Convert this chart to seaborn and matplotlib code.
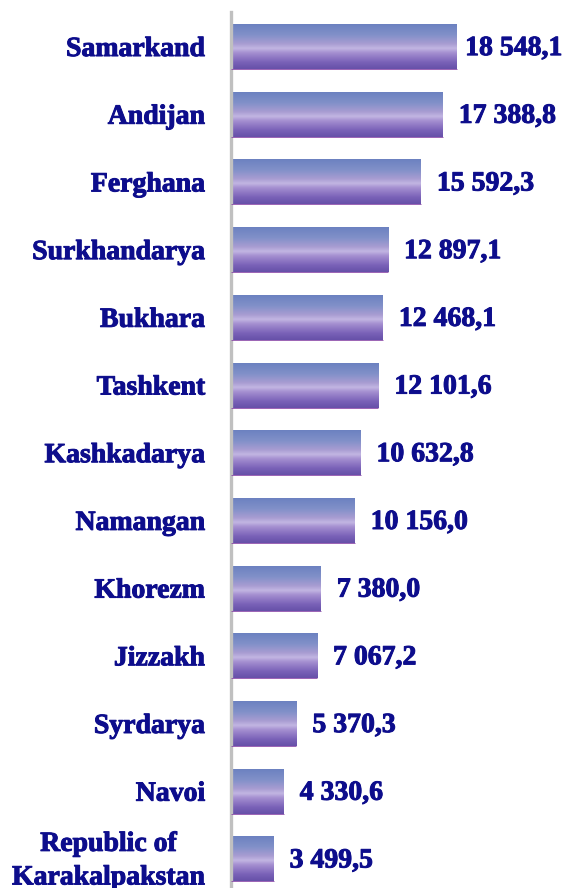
import numpy as np
import pandas as pd
import matplotlib
matplotlib.use("Agg")
import matplotlib.pyplot as plt
import matplotlib.patheffects as pe
from matplotlib.transforms import ScaledTranslation
from matplotlib.colors import LinearSegmentedColormap
import seaborn as sns

regions = ["Samarkand", "Andijan", "Ferghana", "Surkhandarya", "Bukhara", "Tashkent",
           "Kashkadarya", "Namangan", "Khorezm", "Jizzakh", "Syrdarya", "Navoi",
           "Republic of\nKarakalpakstan"]
values = [18548.1, 17388.8, 15592.3, 12897.1, 12468.1, 12101.6,
          10632.8, 10156.0, 7380.0, 7067.2, 5370.3, 4330.6, 3499.5]
value_labels = ["18 548,1", "17 388,8", "15 592,3", "12 897,1", "12 468,1", "12 101,6",
                "10 632,8", "10 156,0", "7 380,0", "7 067,2", "5 370,3", "4 330,6", "3 499,5"]

df = pd.DataFrame({"region": regions, "value": values})

sns.set_theme(style="white")
plt.rcParams["font.family"] = ["Liberation Serif", "DejaVu Serif"]

W, H = 564, 888
fig = plt.figure(figsize=(W / 100, H / 100), dpi=100)
ax_left = 231 / W
ax_top = 12 / H
ax = fig.add_axes([ax_left, 0.0, 1 - ax_left, 1 - ax_top])

sns.barplot(data=df, x="value", y="region", orient="h", color="#8a86c8",
            width=0.665, ax=ax, saturation=1)

# gradient fill for bars
cmap = LinearSegmentedColormap.from_list("bar", [
    (0.0, "#6a80c0"),
    (0.25, "#8090c8"),
    (0.45, "#a89cd2"),
    (0.55, "#c2b6e2"),
    (0.65, "#a48ed0"),
    (0.85, "#7a62b8"),
    (1.0, "#6650a8"),
])
grad = np.linspace(0, 1, 256).reshape(-1, 1)
for p in ax.patches:
    x0, y0 = p.get_x(), p.get_y()
    w, h = p.get_width(), p.get_height()
    p.set_facecolor("none")
    p.set_edgecolor("none")
    im = ax.imshow(grad, cmap=cmap, aspect="auto", extent=(x0, x0 + w, y0 + h, y0),
                   origin="upper", zorder=2, interpolation="bilinear")
    im.set_clip_path(p)
    ax.plot([x0, x0 + w], [y0 + h, y0 + h], color="#8a4aa8", lw=0.6, zorder=3,
            solid_capstyle="butt")

ax.set_xlim(0, 333 / 0.01218)
ax.set_ylim(12.43, -0.51)

navy = "#0d0d8c"
effects = [pe.withStroke(linewidth=0.7, foreground=navy)]
texts = []
for i, (v, lab) in enumerate(zip(values, value_labels)):
    t = ax.annotate(lab, xy=(v, i), xytext=(11.5, -1.5), textcoords="offset points",
                    ha="left", va="center", fontsize=20, fontweight="bold", color=navy,
                    path_effects=effects)
    texts.append(t)

ax.set_yticks(range(len(regions)))
ax.set_yticklabels(regions, fontsize=20, fontweight="bold", color=navy,
                   multialignment="center", linespacing=1.45)
for t in ax.get_yticklabels():
    t.set_path_effects(effects)
ax.tick_params(axis="y", length=0, pad=26 * 0.72)
ax.set_xticks([])
ax.set_xlabel("")
ax.set_ylabel("")
for s in ["top", "right", "bottom"]:
    ax.spines[s].set_visible(False)
ax.spines["left"].set_color("#c0c0c0")
ax.spines["left"].set_linewidth(2.4)
ax.set_facecolor("white")

# lift the two-line label a little so it fits inside the figure
last = ax.get_yticklabels()[-1]
last.set_transform(last.get_transform() + ScaledTranslation(0, 5 / 100, fig.dpi_scale_trans))

# keep value labels inside the figure (shift left if they would overflow)
fig.canvas.draw()
r = fig.canvas.get_renderer()
for t in texts:
    bb = t.get_window_extent(r)
    limit = W - 2
    if bb.x1 > limit:
        dx_pt = (bb.x1 - limit) * 72 / fig.dpi
        x, y = t.get_position()
        t.set_position((x - dx_pt, y))

fig.savefig("out.png", dpi=100)
